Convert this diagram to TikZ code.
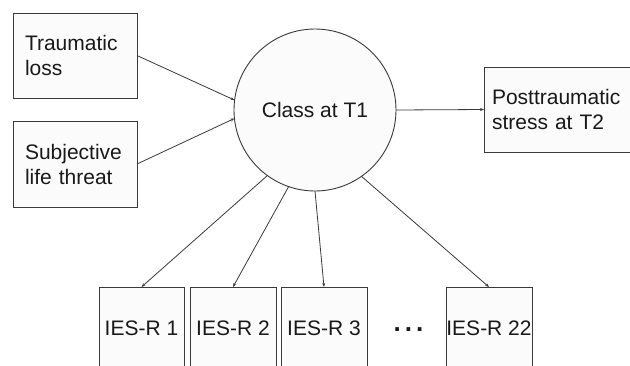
\documentclass[tikz,border=0pt]{standalone}
\usepackage{fontspec}
\setmainfont{Liberation Sans}
\usetikzlibrary{arrows.meta}
\definecolor{linegray}{HTML}{3A3A3A}
\definecolor{boxfill}{HTML}{FBFBFB}
\begin{document}
\begin{tikzpicture}[x=1pt,y=-1pt,
  every node/.style={font=\fontsize{21}{25}\selectfont, text=black!90},
  box/.style={draw=linegray, fill=boxfill, line width=0.9pt, inner sep=0pt, outer sep=0pt, rectangle},
  itembox/.style={box, minimum width=86pt, minimum height=82pt, align=center},
  conn/.style={draw=linegray, line width=0.8pt, -{Stealth[length=4pt,width=3pt]}}]
\useasboundingbox (0,0) rectangle (630,365);
\clip (0,0) rectangle (630,365);
\fill[white] (0,0) rectangle (630,365);
\node[box, minimum width=124pt, minimum height=85pt, text width=100pt, align=left] (b1) at (75,55.5) {Traumatic\\loss};
\node[box, minimum width=124pt, minimum height=86pt, text width=100pt, align=left] (b2) at (75,164) {Subjective\\life threat};
\node[box, circle, minimum size=162pt] (c) at (315,110) {Class at T1};
\node[box, minimum width=146pt, minimum height=85pt, text width=130pt, align=left] (p) at (557,109.5) {Posttraumatic\\stress at T2};
\node[itembox, minimum width=85pt] (i1) at (141.5,328) {IES-R 1};
\node[itembox] (i2) at (233,328) {IES-R 2};
\node[itembox] (i3) at (324,328) {IES-R 3};
\node[font=\fontsize{26}{30}\selectfont\bfseries] (dots) at (408.5,330) {.\hspace{4pt}.\hspace{4pt}.};
\node[itembox] (i4) at (489,328) {IES-R 22};
\draw[conn] (b1.east) -- (c.173);
\draw[conn] (b2.east) -- (c.186);
\draw[conn] (c.east) -- (p.west);
\draw[conn] (c.234) -- (i1.north);
\draw[conn] (c.251) -- (i2.north);
\draw[conn] (c.270) -- (i3.north);
\draw[conn] (c.305) -- (i4.north);
\end{tikzpicture}
\end{document}
